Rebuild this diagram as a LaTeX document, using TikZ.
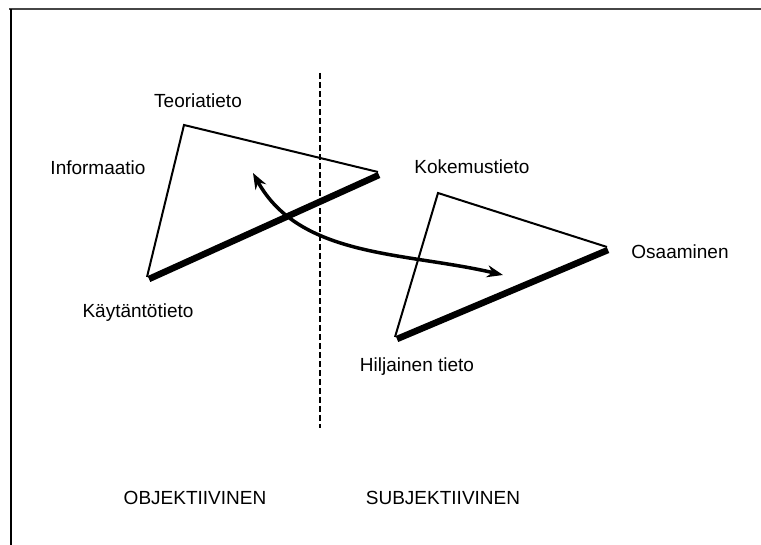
\documentclass[tikz,border=0pt]{standalone}
\usepackage{fontspec}
\setmainfont{Liberation Sans}
\usepackage{tikz}
\usetikzlibrary{arrows.meta,positioning,calc}
\definecolor{myframe}{RGB}{70,70,70}

\begin{document}
\begin{tikzpicture}[x=1pt,y=-1pt,
  lbl/.style={font=\fontsize{19}{21}\selectfont,inner sep=0pt},
  edge/.style={line width=2pt,line join=miter},
  base/.style={line width=6.5pt},
  arr/.style={{Stealth[length=16pt,width=12pt]}-{Stealth[length=16pt,width=12pt]},line width=3.5pt}]
  \useasboundingbox (0,0) rectangle (761,545);
  % frame
  \draw[myframe,line width=1.8pt](9,9)--(761,9);
  \draw[line width=1.5pt](11,9)--(11,545);
  % divider
  \draw[dashed,line width=1.6pt,dash pattern=on 6pt off 3pt](320,73)--(320,428);
  % objective triangle
  \coordinate(ot) at (184,125);
  \coordinate(or) at (378,172);
  \coordinate(ol) at (147,277);
  \draw[edge](ol)--(ot)--(or);
  \draw[base]($(ol)+(2,2)$)--($(or)+(1,3)$);
  % subjective triangle
  \coordinate(st) at (438,193);
  \coordinate(sr) at (607,247);
  \coordinate(sl) at (395,337);
  \draw[edge](sl)--(st)--(sr);
  \draw[base]($(sl)+(2,2)$)--($(sr)+(1,3)$);
  % labels
  \node[lbl](teoria) at (198,101){Teoriatieto};
  \node[lbl](info) at (98,168){Informaatio};
  \node[lbl](kaytanto) at (138,313){Käytäntötieto};
  \node[lbl](kokemus) at (472,167){Kokemustieto};
  \node[lbl](osaaminen) at (680,252){Osaaminen};
  \node[lbl](hiljainen) at (417,367){Hiljainen tieto};
  \node[lbl](obj) at (195,498){OBJEKTIIVINEN};
  \node[lbl](subj) at (443,498){SUBJEKTIIVINEN};
  % exchange
  \coordinate(a1) at (253,173);
  \coordinate(a2) at (503,275);
  \draw[arr](a1) .. controls (300,258) and (405,252) .. (a2);
\end{tikzpicture}
\end{document}
